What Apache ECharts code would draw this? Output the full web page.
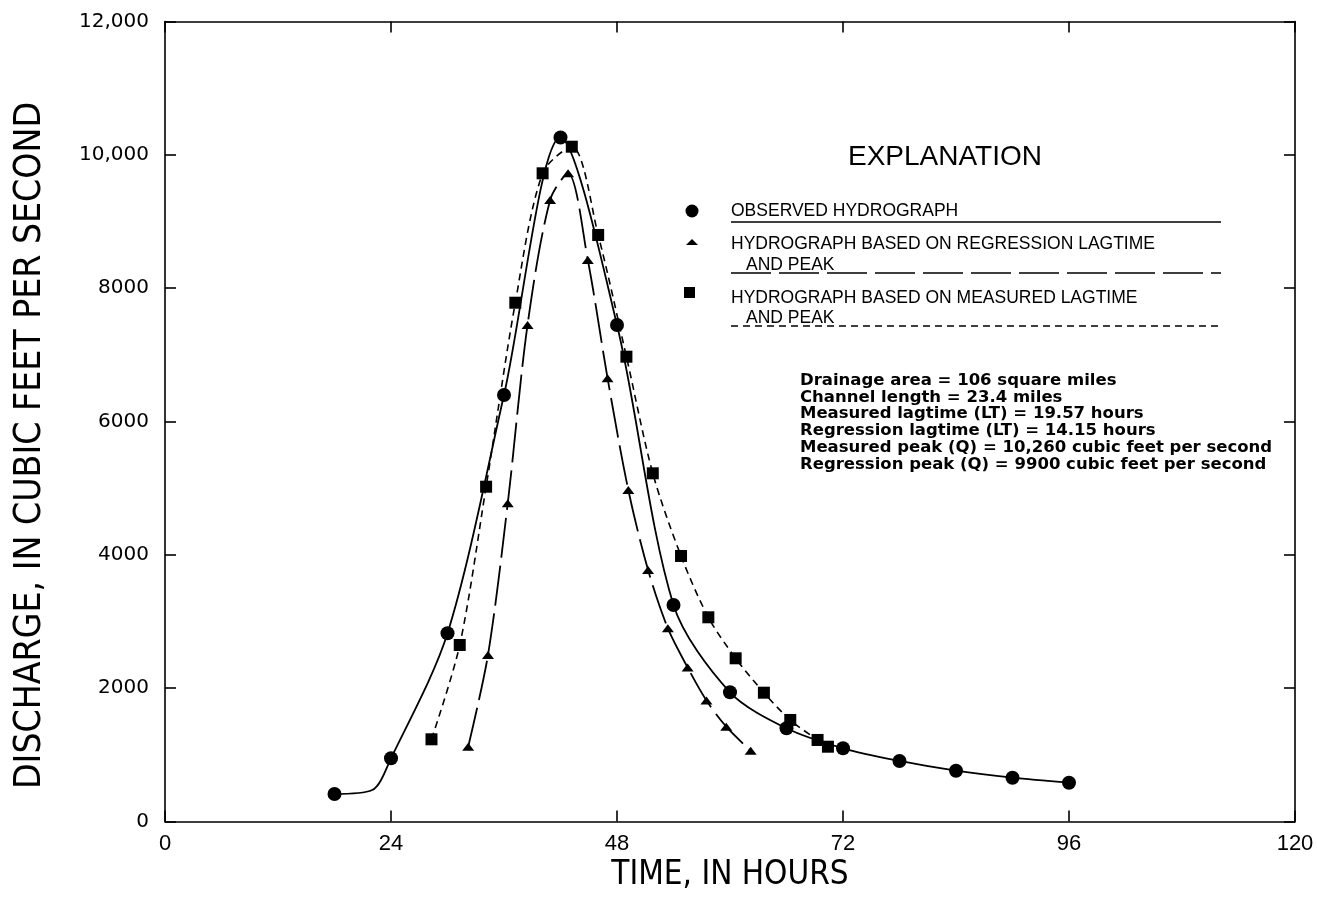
<!DOCTYPE html>
<html>
<head>
<meta charset="utf-8">
<script src="https://cdn.jsdelivr.net/npm/echarts@6/dist/echarts.min.js"></script>
<style>
html,body{margin:0;padding:0;background:#fff;}
#chart{width:1317px;height:904px;}
</style>
</head>
<body>
<div id="chart"></div>
<script>
// ---- data ----
const yTickLabels = ['0', '2000', '4000', '6000', '8000', '10,000', '12,000'];

const obsHours = [18, 22, 24, 30, 36, 42, 48, 54, 60, 66, 72, 78, 84, 90, 96];
const obsFlow  = [412, 472, 948, 2823, 6398, 10260, 7448, 3248, 1938, 1398, 1098, 908, 762, 657, 582];
const obsUnmarkedHours = [22];

const regHours = [32.2, 34.3, 36.4, 38.5, 40.9, 42.8, 44.9, 47.0, 49.2, 51.3, 53.4, 55.5, 57.5, 59.6, 62.2];
const regFlow  = [1122, 2498, 4773, 7448, 9323, 9723, 8423, 6648, 4973, 3773, 2898, 2310, 1815, 1422, 1060];

const measHours = [28.3, 31.3, 34.1, 37.2, 40.1, 43.2, 46.0, 49.0, 51.8, 54.8, 57.7, 60.6, 63.6, 66.4, 69.3, 70.4];
const measFlow  = [1233, 2648, 5022, 7782, 9723, 10122, 8798, 6972, 5223, 3983, 3063, 2448, 1932, 1523, 1223, 1122];

const legendTexts = [
  'OBSERVED HYDROGRAPH',
  'HYDROGRAPH BASED ON REGRESSION LAGTIME',
  'AND PEAK',
  'HYDROGRAPH BASED ON MEASURED LAGTIME',
  'AND PEAK'
];
const infoLines = [
  'Drainage area = 106 square miles',
  'Channel length = 23.4 miles',
  'Measured lagtime (LT) = 19.57 hours',
  'Regression lagtime (LT) = 14.15 hours',
  'Measured peak (Q) = 10,260 cubic feet per second',
  'Regression peak (Q) = 9900 cubic feet per second'
];

// ---- build ----
const obsData = obsHours.map((h, i) => {
  const d = { value: [h, obsFlow[i]] };
  if (obsUnmarkedHours.includes(h)) d.symbol = 'none';
  return d;
});
const regData = regHours.map((h, i) => [h, regFlow[i]]);
const measData = measHours.map((h, i) => [h, measFlow[i]]);

const chart = echarts.init(document.getElementById('chart'), null, { renderer: 'canvas' });

const axisLineStyle = () => ({ show: true, onZero: false, lineStyle: { color: '#000', width: 1.6 } });
const tickStyle = (len) => ({ show: true, inside: true, length: len, lineStyle: { color: '#000', width: 1.6 } });
const titleFont = "'Liberation Sans Narrow', 'DejaVu Sans Condensed', 'Liberation Sans', sans-serif";
const legendFont = "17.5px 'Liberation Sans', sans-serif";

const graphic = [
  { type: 'text', left: 848, top: 143, style: { text: 'EXPLANATION', font: "28px 'Liberation Sans', sans-serif", fill: '#000' } },
  // legend symbols
  { type: 'circle', shape: { cx: 692, cy: 211, r: 6.5 }, style: { fill: '#000' } },
  { type: 'polygon', shape: { points: [[686, 245], [692, 239], [698, 245]] }, style: { fill: '#000' } },
  { type: 'rect', shape: { x: 684, y: 287, width: 11, height: 11 }, style: { fill: '#000' } },
  // legend texts
  { type: 'text', left: 731, top: 202, style: { text: legendTexts[0], font: legendFont, fill: '#000' } },
  { type: 'text', left: 731, top: 235, style: { text: legendTexts[1], font: legendFont, fill: '#000' } },
  { type: 'text', left: 746, top: 256, style: { text: legendTexts[2], font: legendFont, fill: '#000' } },
  { type: 'text', left: 731, top: 289, style: { text: legendTexts[3], font: legendFont, fill: '#000' } },
  { type: 'text', left: 746, top: 309, style: { text: legendTexts[4], font: legendFont, fill: '#000' } },
  // legend lines
  { type: 'line', shape: { x1: 731, y1: 222, x2: 1221, y2: 222 }, style: { stroke: '#000', lineWidth: 1.6 } },
  { type: 'line', shape: { x1: 731, y1: 273, x2: 1221, y2: 273 }, style: { stroke: '#000', lineWidth: 1.6, lineDash: [40, 8] } },
  { type: 'line', shape: { x1: 731, y1: 326, x2: 1221, y2: 326 }, style: { stroke: '#000', lineWidth: 1.4, lineDash: [7, 5] } },
  // info block
  { type: 'text', left: 800, top: 372, style: { text: infoLines.join('\n'), font: "bold 16.5px 'DejaVu Sans', sans-serif", lineHeight: 16.8, fill: '#000' } }
];

const option = {
  backgroundColor: '#fff',
  animation: false,
  grid: { left: 165, right: 22, top: 21.5, bottom: 82.5, containLabel: false },
  xAxis: [
    {
      type: 'value', min: 0, max: 120, interval: 24, position: 'bottom',
      axisLine: axisLineStyle(), axisTick: tickStyle(11), splitLine: { show: false },
      axisLabel: { color: '#000', fontSize: 22, fontFamily: "'Liberation Sans', sans-serif", margin: 11 },
      name: 'TIME, IN HOURS', nameLocation: 'middle', nameGap: 37, nameMoveOverlap: false,
      nameTextStyle: { color: '#000', fontSize: 33, fontFamily: titleFont }
    },
    {
      type: 'value', min: 0, max: 120, interval: 24, position: 'top',
      axisLine: axisLineStyle(), axisTick: tickStyle(11), splitLine: { show: false },
      axisLabel: { show: false }
    }
  ],
  yAxis: [
    {
      type: 'value', min: 0, max: 12000, interval: 2000, position: 'left',
      axisLine: axisLineStyle(), axisTick: tickStyle(11), splitLine: { show: false },
      axisLabel: {
        color: '#000', fontSize: 20, fontFamily: "'DejaVu Sans', sans-serif", margin: 16,
        formatter: v => yTickLabels[Math.round(v / 2000)]
      },
      name: 'DISCHARGE, IN CUBIC FEET PER SECOND', nameLocation: 'middle', nameGap: 116, nameMoveOverlap: false,
      nameTextStyle: { color: '#000', fontSize: 37, fontFamily: titleFont, padding: [0, 48, 0, 0] }
    },
    {
      type: 'value', min: 0, max: 12000, interval: 2000, position: 'right',
      axisLine: axisLineStyle(), axisTick: tickStyle(11), splitLine: { show: false },
      axisLabel: { show: false }
    }
  ],
  graphic: graphic,
  series: [
    {
      name: 'Observed', type: 'line', data: obsData, smooth: 0.3,
      symbol: 'circle', symbolSize: 14,
      itemStyle: { color: '#000' },
      lineStyle: { color: '#000', width: 1.8, type: 'solid' }
    },
    {
      name: 'Regression', type: 'line', data: regData, smooth: 0.3,
      symbol: 'triangle', symbolSize: [12, 8],
      itemStyle: { color: '#000' },
      lineStyle: { color: '#000', width: 1.8, type: [40, 8] }
    },
    {
      name: 'Measured', type: 'line', data: measData, smooth: 0.3,
      symbol: 'rect', symbolSize: 12,
      itemStyle: { color: '#000' },
      lineStyle: { color: '#000', width: 1.6, type: [7, 5] }
    }
  ]
};
chart.setOption(option);
</script>
</body>
</html>
